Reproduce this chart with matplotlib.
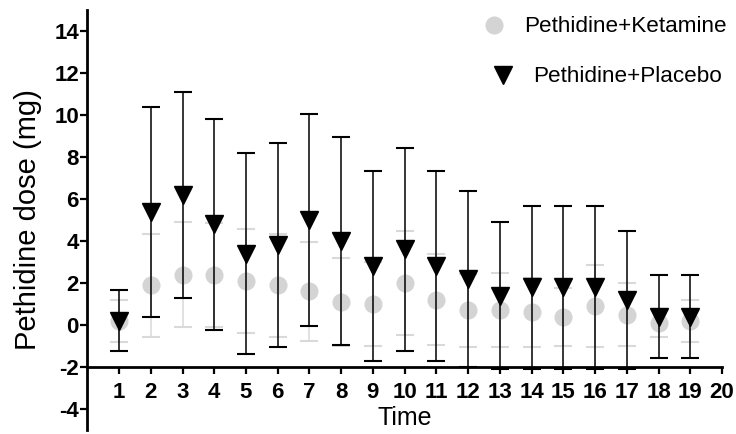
import matplotlib
matplotlib.use('Agg')
import matplotlib.pyplot as plt
from matplotlib.lines import Line2D
import numpy as np

# time points (x) and group statistics
time = np.arange(1, 20)
ket_mean = [0.2, 1.9, 2.4, 2.4, 2.1, 1.9, 1.6, 1.1, 1.0, 2.0,
            1.2, 0.7, 0.7, 0.6, 0.4, 0.9, 0.5, 0.1, 0.2]
ket_sd = [1.0, 2.45, 2.5, 2.48, 2.47, 2.45, 2.35, 2.09, 2.02, 2.48,
          2.17, 1.73, 1.76, 1.63, 1.38, 1.94, 1.52, 0.68, 0.99]
plc_mean = [0.2, 5.4, 6.2, 4.8, 3.4, 3.8, 5.0, 4.0, 2.8, 3.6,
            2.8, 2.2, 1.4, 1.8, 1.8, 1.8, 1.2, 0.4, 0.4]
plc_sd = [1.45, 5.0, 4.9, 5.03, 4.77, 4.87, 5.05, 4.93, 4.53, 4.83,
          4.53, 4.18, 3.49, 3.88, 3.88, 3.88, 3.28, 1.97, 1.97]
xticks = list(range(1, 21))
yticks = list(range(-4, 15, 2))

matplotlib.rcParams['font.family'] = 'Liberation Sans'
matplotlib.rcParams['axes.unicode_minus'] = False

W, H = 736, 434
fig = plt.figure(figsize=(W / 100, H / 100), dpi=100)
ax = fig.add_axes([87.3 / W, 4 / H, 634.7 / W, 420 / H])
ax.set_xlim(0, 20)
ax.set_ylim(-5, 15)

# ketamine group (grey circles)
ax.errorbar(time, ket_mean, yerr=ket_sd, fmt='o', ms=12, color='#d4d4d4',
            ecolor='#d9d9d9', elinewidth=1.1, capsize=6.5, capthick=1.5,
            zorder=2, clip_on=False)
# placebo group (black triangles)
ax.errorbar(time, plc_mean, yerr=plc_sd, fmt='v', ms=12.7, color='black',
            ecolor='black', elinewidth=1.1, capsize=6.5, capthick=1.5,
            zorder=3, clip_on=False)

ax.spines['top'].set_visible(False)
ax.spines['right'].set_visible(False)
ax.spines['bottom'].set_position(('data', -2))
ax.spines['bottom'].set_linewidth(2.0)
ax.spines['left'].set_linewidth(2.0)

ax.set_xticks(xticks)
ax.set_yticks(yticks)
ax.tick_params(axis='both', direction='out', length=5, width=1.6)
ax.tick_params(axis='x', pad=6)
ax.tick_params(axis='y', pad=1)
for lab in ax.get_xticklabels() + ax.get_yticklabels():
    lab.set_fontweight('bold')
    lab.set_fontsize(16)

ax.set_xlabel('Time', fontsize=18)
ax.xaxis.set_label_coords(0.5, 0.056)
ax.set_ylabel('Pethidine dose (mg)', fontsize=21)
ax.yaxis.set_label_coords(-0.071, 0.502)

h1 = Line2D([], [], ls='none', marker='o', ms=12, color='#d4d4d4')
h2 = Line2D([], [], ls='none', marker='v', ms=12.7, color='black')
leg_kw = dict(loc='center left', bbox_transform=fig.transFigure, frameon=False,
              fontsize=16.2, handlelength=1.2, handletextpad=0.75,
              borderpad=0, borderaxespad=0)
leg1 = ax.legend([h1], ['Pethidine+Ketamine'],
                 bbox_to_anchor=(480 / W, 1 - 27 / H), **leg_kw)
ax.add_artist(leg1)
ax.legend([h2], ['Pethidine+Placebo'],
          bbox_to_anchor=(489 / W, 1 - 77 / H), **leg_kw)

fig.savefig('out.png', dpi=100)
